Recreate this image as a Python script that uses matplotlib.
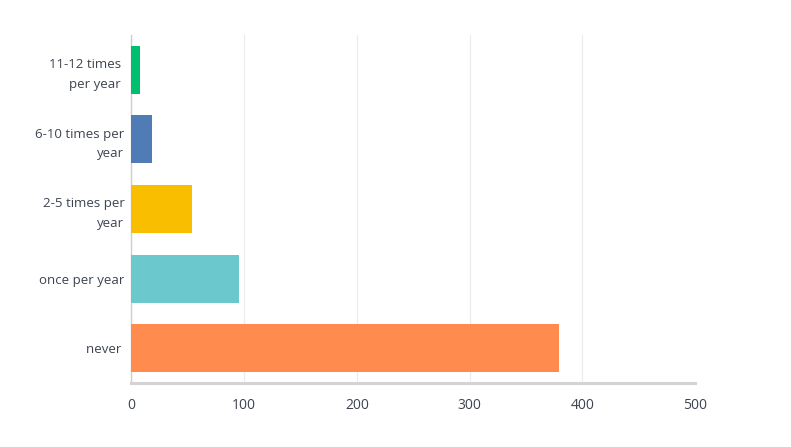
import matplotlib.pyplot as plt

categories = ["11-12 times \nper year ", "6-10 times per\nyear", "2-5 times per\nyear",
              "once per year", "never "]
counts = [8, 18, 54, 95, 379]
colors = ["#00bf6f", "#507cb6", "#f9be00", "#6bc8cd", "#ff8b4f"]
xticks = [0, 100, 200, 300, 400, 500]

plt.rcParams["font.family"] = ["Open Sans", "DejaVu Sans"]
plt.rcParams["font.size"] = 9.5

fig = plt.figure(figsize=(7.91, 4.47), dpi=100)
ax = fig.add_axes([0.1662, 0.1432, 0.7124, 0.7785])

pos = list(range(len(categories)))
ax.barh(pos, counts, height=0.69, color=colors, zorder=3)

ax.set_xlim(0, 500)
ax.set_ylim(4.5, -0.5)
ax.set_xticks(xticks)
ax.set_xticklabels([str(t) for t in xticks])
ax.set_yticks(pos)
ax.set_yticklabels(categories, ha="right", linespacing=1.65)

ax.grid(axis="x", color="#ebebeb", linewidth=0.8, zorder=0)
for side in ["top", "right"]:
    ax.spines[side].set_visible(False)
ax.spines["left"].set_color("#cfcfcf")
ax.spines["left"].set_linewidth(1)
ax.spines["bottom"].set_color("#d3d3d3")
ax.spines["bottom"].set_linewidth(2.2)

ax.tick_params(axis="x", length=0, pad=11, colors="#3c4450", labelsize=10)
ax.tick_params(axis="y", length=0, pad=5, colors="#3c4450")

plt.savefig("out.png", dpi=100)
plt.close()
